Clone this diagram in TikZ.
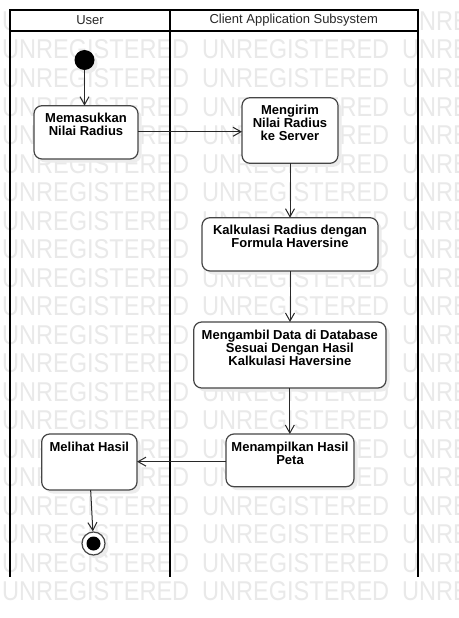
\documentclass[tikz,border=0pt]{standalone}
\usepackage{fontspec}
\setmainfont{Liberation Sans}
\usetikzlibrary{arrows.meta,calc}
\definecolor{wm}{RGB}{233,233,233}
\definecolor{edgec}{RGB}{70,70,70}
\definecolor{flowc}{RGB}{40,40,40}
\definecolor{shadec}{RGB}{236,236,236}
\begin{document}
\begin{tikzpicture}[x=1pt,y=-1pt,
  lane/.style={line width=2pt,draw=black},
  headtext/.style={font=\fontsize{13}{13}\selectfont,text={rgb,255:red,40;green,40;blue,40},inner sep=0pt},
  actbox/.style={draw=edgec,line width=1.2pt,fill=white,rounded corners=8pt,inner sep=0pt,outer sep=0pt},
  acttext/.style={font=\fontsize{13}{13}\selectfont\bfseries,align=center,inner sep=0pt,anchor=north,text=black},
  flow/.style={draw=flowc,line width=1pt,-{Straight Barb[length=8pt,width=9pt]}},
  wmark/.style={text=wm,inner sep=0pt,anchor=base west},
  shadow/.style={fill=shadec,rounded corners=8pt}
]
\useasboundingbox (0,0) rectangle (458,618);
\fill[white] (0,0) rectangle (458,618);

% watermark
\begin{scope}
\clip (0,0) rectangle (458,618);
\foreach \k in {0,...,20}{
  \foreach \xx in {2,202,402}{
    \node[wmark] (wm-\k-\xx) at (\xx,{21+28.5*\k+9.5}) {\resizebox{187pt}{19pt}{UNREGISTERED}};
  }
}
\end{scope}

% shadows
\foreach \xa/\ya/\xb/\yb in {34/105.7/138/159, 242/97.7/338/163.3, 202/217.7/378/271, 193.7/322/386/388, 226/434/354/486.7, 41.7/434/137/490}{
  \fill[shadow] (\xa+3.5,\ya+3.5) rectangle (\xb+3.5,\yb+3.5);
}
\fill[shadec] (87.5,63.5) circle (10);
\fill[shadec] (97,547) circle (11.5);

% swimlanes
\fill[white] (10,10) rectangle (417.5,31);
\draw[lane] (10,10) rectangle (417.5,31);
\draw[lane] (10,31) -- (10,577);
\draw[lane] (170,10) -- (170,577);
\draw[lane] (417.5,31) -- (417.5,577);
\node[headtext] (h1) at (90,20.5) {User};
\node[headtext] (h2) at (293.75,20.5) {Client Application Subsystem};

% start node
\node[circle,fill=black,minimum size=20pt,inner sep=0pt] (S) at (84.5,60) {};

% activity boxes
\node[actbox,minimum width=104pt,minimum height=53.3pt] (A) at (86,132.35) {};
\node[acttext] (At) at ($(A.north)+(0,7.5)$) {Memasukkan\\Nilai Radius};

\node[actbox,minimum width=96pt,minimum height=65.6pt] (B) at (290,130.5) {};
\node[acttext] (Bt) at ($(B.north)+(0,7.3)$) {Mengirim\\Nilai Radius\\ke Server};

\node[actbox,minimum width=176pt,minimum height=53.3pt] (C) at (290,244.35) {};
\node[acttext] (Ct) at ($(C.north)+(0,7.3)$) {Kalkulasi Radius dengan\\Formula Haversine};

\node[actbox,minimum width=192.3pt,minimum height=66pt] (D) at (289.85,355) {};
\node[acttext] (Dt) at ($(D.north)+(0,8)$) {Mengambil Data di Database\\Sesuai Dengan Hasil\\Kalkulasi Haversine};

\node[actbox,minimum width=128pt,minimum height=52.7pt] (E) at (290,460.35) {};
\node[acttext] (Et) at ($(E.north)+(0,7.7)$) {Menampilkan Hasil\\Peta};

\node[actbox,minimum width=95.3pt,minimum height=56pt] (F) at (89.35,462) {};
\node[acttext] (Ft) at ($(F.north)+(0,7.7)$) {Melihat Hasil};

% final node
\node[circle,draw=edgec,line width=1.2pt,fill=white,minimum size=23pt,inner sep=0pt] (Fin) at (93.5,543.5) {};
\node[circle,fill=black,minimum size=14pt,inner sep=0pt] (FinDot) at (Fin.center) {};

% connectors
\draw[flow] (S) -- (S |- A.north);
\draw[flow] ($(A.east)+(0,-0.6)$) -- ($(A.east -| B.west)+(0,-0.6)$);
\draw[flow] (B.south) -- (C.north);
\draw[flow] (C.south) -- (C.south |- D.north);
\draw[flow] (D.south) -- (D.south |- E.north);
\draw[flow] ($(E.west)+(0,1.3)$) -- ($(E.west -| F.east)+(0,1.3)$);
\draw[flow] ($(F.south)+(1.3,0)$) -- (Fin);
\end{tikzpicture}
\end{document}
